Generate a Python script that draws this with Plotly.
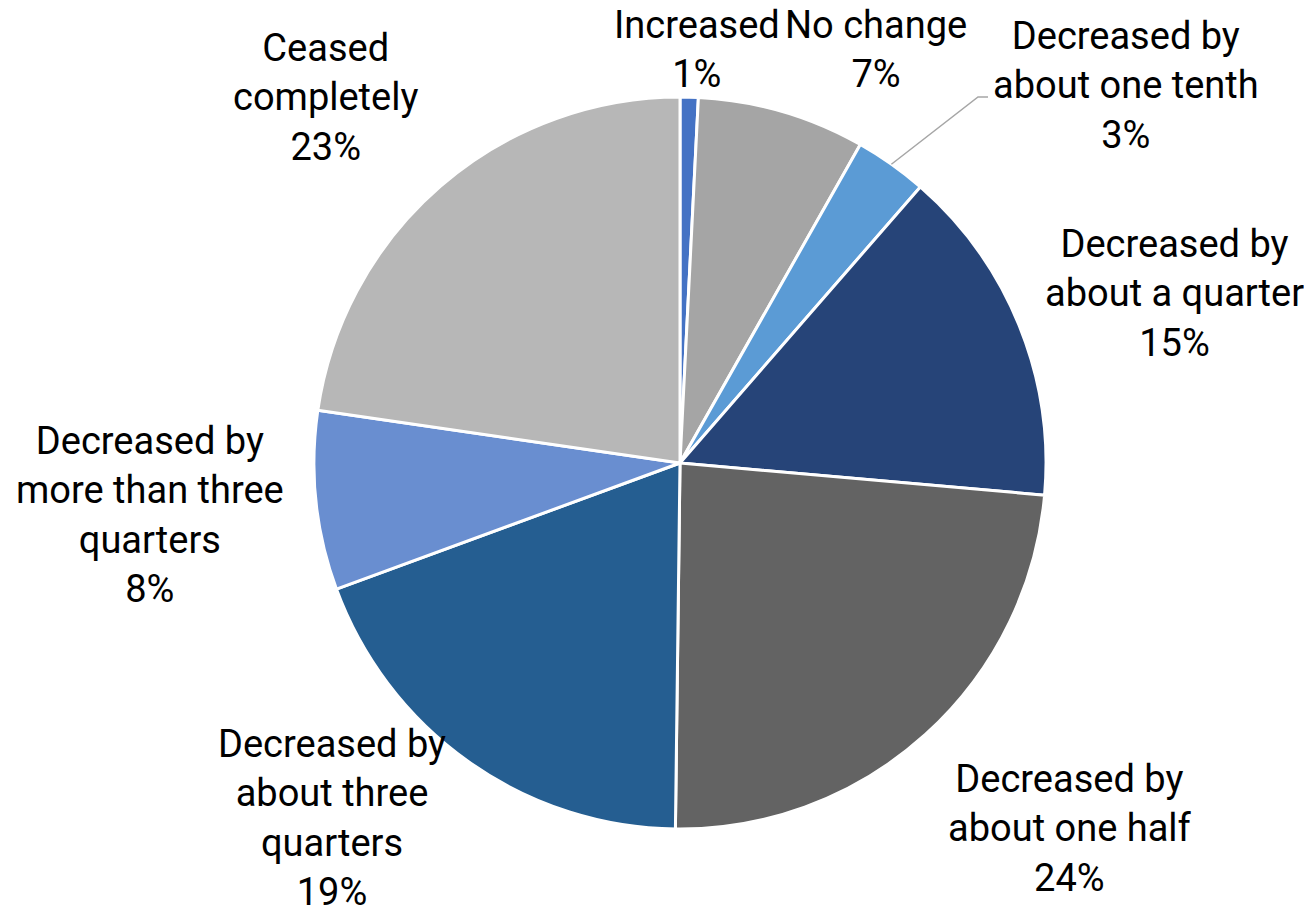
import math
import plotly.graph_objects as go

categories = [
    "Increased",
    "No change",
    "Decreased by about one tenth",
    "Decreased by about a quarter",
    "Decreased by about one half",
    "Decreased by about three quarters",
    "Decreased by more than three quarters",
    "Ceased completely",
]
values = [0.8, 7.4, 3.2, 15.0, 23.8, 19.2, 7.9, 22.7]
label_lines = [
    ["Increased"],
    ["No change"],
    ["Decreased by", "about one tenth"],
    ["Decreased by", "about a quarter"],
    ["Decreased by", "about one half"],
    ["Decreased by", "about three", "quarters"],
    ["Decreased by", "more than three", "quarters"],
    ["Ceased", "completely"],
]
colors = ["#4472C4", "#A5A5A5", "#5B9BD5", "#264478",
          "#636363", "#255E91", "#698ED0", "#B7B7B7"]

# layout (pixels as seen in the screenshot; page body adds an 8px offset)
W, H = 1312, 907
OFF = 8
CX, CY, R = 680 - OFF, 463 - OFF, 366
label_px = [(697, 49), (876, 49), (1126, 85), (1174, 293),
            (1070, 828), (332, 818), (150, 515), (325, 98)]
label_px = [(x - OFF, y - OFF) for x, y in label_px]
FONT = dict(family="Roboto, Arial, sans-serif", size=38, color="#000000")


def px_to_paper(x, y):
    return x / W, 1 - y / H


fig = go.Figure(go.Pie(
    labels=categories,
    values=values,
    sort=False,
    direction="clockwise",
    rotation=0,
    marker=dict(colors=colors, line=dict(color="#FFFFFF", width=3)),
    textinfo="none",
    hoverinfo="label+percent",
    showlegend=False,
    domain=dict(x=[(CX - R) / W, (CX + R) / W],
                y=[1 - (CY + R) / H, 1 - (CY - R) / H]),
))

total = sum(values)
annotations = []
for lines, v, (lx, ly) in zip(label_lines, values, label_px):
    pct = round(v / total * 100)
    text = "<br>".join(lines + [f"{pct}%"])
    x, y = px_to_paper(lx, ly)
    annotations.append(dict(
        x=x, y=y, xref="paper", yref="paper", text=text,
        showarrow=False, xanchor="center", yanchor="middle",
        align="center", font=FONT,
    ))

# leader line for the small "one tenth" slice
cum = sum(values[:2])
mid = (cum + values[2] / 2) / total * 2 * math.pi
sx, sy = CX + R * math.sin(mid), CY - R * math.cos(mid)
lx, ly = label_px[2]
ex, ey = lx - 148, ly + 12
hx = ex + 10
p0 = px_to_paper(sx, sy)
p1 = px_to_paper(ex, ey)
p2 = px_to_paper(hx, ey)
fig.add_shape(type="path", xref="paper", yref="paper",
              path=f"M {p0[0]} {p0[1]} L {p1[0]} {p1[1]} L {p2[0]} {p2[1]}",
              line=dict(color="#A6A6A6", width=1.5))

fig.update_layout(
    width=W, height=H,
    margin=dict(l=0, r=0, t=0, b=0),
    paper_bgcolor="#FFFFFF",
    plot_bgcolor="#FFFFFF",
    annotations=annotations,
)

fig.write_html("out.html")
